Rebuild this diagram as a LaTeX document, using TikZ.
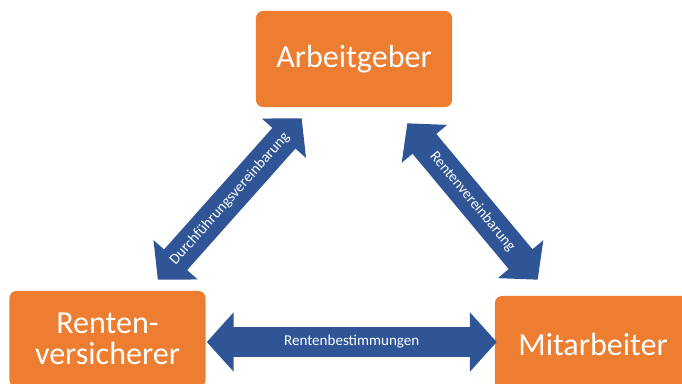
\documentclass[tikz,border=0pt]{standalone}
\usepackage{fontspec}
\setmainfont{Carlito}
\usetikzlibrary{arrows.meta,positioning,calc}
\definecolor{accent}{RGB}{237,125,49}
\definecolor{linkblue}{RGB}{47,85,151}
\tikzset{
  partner/.style={fill=accent, rounded corners=5pt, minimum width=4.9cm,
    minimum height=2.4cm, text=white, align=center, inner sep=2pt,
    font=\fontsize{22.8}{22}\selectfont},
  vertrag/.style={draw=linkblue, line width=22pt,
    {Triangle[length=19pt,width=41pt]}-{Triangle[length=19pt,width=41pt]}},
  vertext/.style={midway, sloped, text=white, font=\fontsize{10.7}{12}\selectfont}
}
\begin{document}
\begin{tikzpicture}[x=0.025cm, y=-0.025cm]
  \clip (0,0) rectangle (682,383);
  % Parteien
  \node[partner] (arb) at (354,59) {Arbeitgeber};
  \node[partner] (rv) at (107.5,339) {Renten-\\versicherer};
  \node[partner] (mit) at (593,344) {Mitarbeiter};
  % Pfeilenden
  \coordinate (dvOben) at ($(arb.south west)+(46,11)$);
  \coordinate (dvUnten) at ($(rv.north east)+(-48,-11)$);
  \coordinate (rvOben) at ($(arb.south east)+(-45,16)$);
  \coordinate (rvUnten) at ($(mit.north west)+(43,-16)$);
  \coordinate (rbLinks) at ($(rv.east)+(1,3)$);
  \coordinate (rbRechts) at ($(rbLinks -| mit.west)+(2,0)$);
  % Vertraege
  \draw[vertrag] (dvUnten) -- node[vertext] {Durchführungsvereinbarung} (dvOben);
  \draw[vertrag] (rvOben) -- node[vertext] {Rentenvereinbarung} (rvUnten);
  \draw[vertrag] (rbLinks) -- node[vertext] {Rentenbestimmungen} (rbRechts);
\end{tikzpicture}
\end{document}
